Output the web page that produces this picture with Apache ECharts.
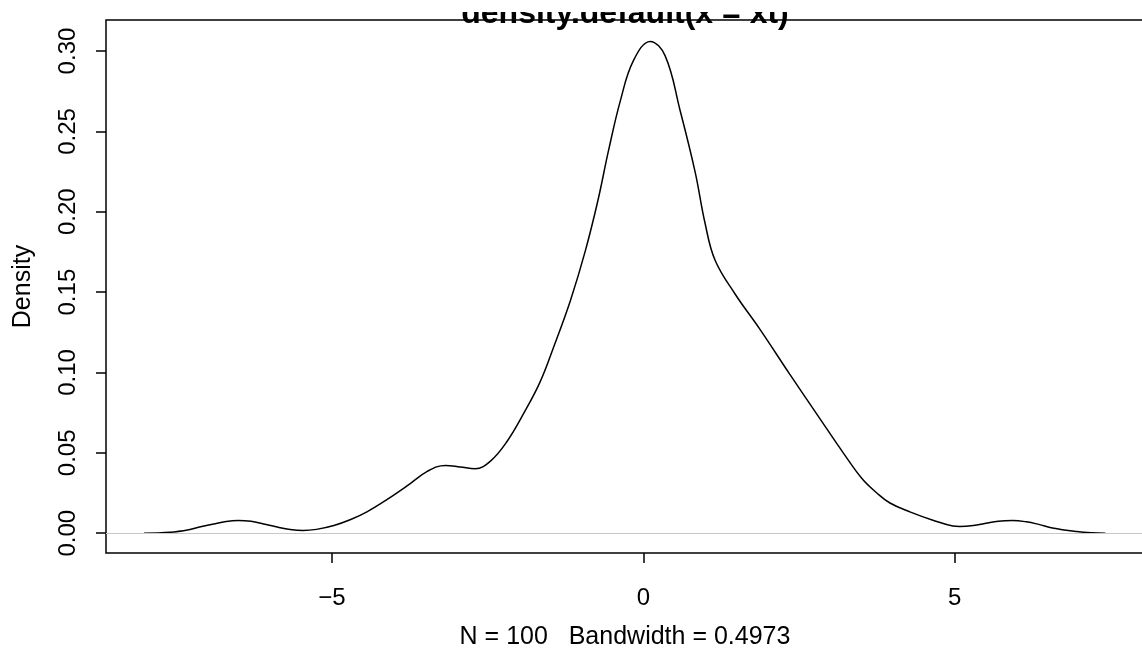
<!DOCTYPE html>
<html>
<head>
<meta charset="utf-8">
<script src="https://cdn.jsdelivr.net/npm/echarts@6/dist/echarts.min.js"></script>
<style>
html,body{margin:0;padding:0;background:#fff;}
#c{width:1142px;height:656px;}
</style>
</head>
<body>
<div id="c"></div>
<script>
// Data
const xValues = [-8.02, -7.6, -7.3, -7.11, -6.9, -6.7, -6.51, -6.3, -6.1, -5.9, -5.7, -5.47, -5.25, -4.97, -4.7, -4.44, -4.12, -3.79, -3.47, -3.18, -2.94, -2.70, -2.46, -2.19, -1.92, -1.66, -1.43, -1.17, -0.93, -0.73, -0.56, -0.37, -0.16, 0.11, 0.35, 0.59, 0.83, 0.99, 1.15, 1.47, 1.87, 2.35, 2.84, 3.21, 3.51, 3.75, 3.96, 4.28, 4.65, 4.97, 5.08, 5.3, 5.5, 5.7, 5.93, 6.15, 6.35, 6.57, 6.96, 7.2, 7.42];
const density = [0.0000, 0.0006, 0.0022, 0.0040, 0.0058, 0.0073, 0.0079, 0.0074, 0.0058, 0.0040, 0.0025, 0.0017, 0.0024, 0.0048, 0.0085, 0.0133, 0.0209, 0.0296, 0.0385, 0.0422, 0.0412, 0.0401, 0.0447, 0.0571, 0.0747, 0.0940, 0.1170, 0.1450, 0.1760, 0.2070, 0.2380, 0.2690, 0.2940, 0.3060, 0.2970, 0.2630, 0.2250, 0.1930, 0.1700, 0.1490, 0.1270, 0.0990, 0.0710, 0.0500, 0.0340, 0.0250, 0.0188, 0.0133, 0.0081, 0.0045, 0.0042, 0.0048, 0.0062, 0.0075, 0.0079, 0.0071, 0.0055, 0.0033, 0.0011, 0.0003, 0.0000];
const xTicks = [-5, 0, 5];
const yTicks = [0, 0.05, 0.10, 0.15, 0.20, 0.25, 0.30];
const titleText = 'density.default(x = xt)';
const xLabel = 'N = 100   Bandwidth = 0.4973';
const yLabel = 'Density';

const FONT = '"Liberation Sans", Arial, Helvetica, sans-serif';
const chart = echarts.init(document.getElementById('c'), null, {renderer: 'canvas'});
const points = xValues.map((x, i) => [x, density[i]]);

chart.setOption({
  animation: false,
  backgroundColor: '#ffffff',
  grid: {left: 106, top: 20, width: 1038, height: 533, outerBoundsMode: 'none', containLabel: false,
    show: true, borderColor: '#000', borderWidth: 1.5, backgroundColor: 'transparent'},
  xAxis: {
    type: 'value', min: -8.63, max: 8.04,
    name: xLabel, nameLocation: 'middle', nameGap: 72,
    nameTextStyle: {fontFamily: FONT, fontSize: 25, color: '#000'},
    axisLine: {show: false, onZero: false},
    splitLine: {show: false},
    axisTick: {show: true, customValues: xTicks, length: 10, inside: false, lineStyle: {color: '#000', width: 1.5}},
    axisLabel: {customValues: xTicks, margin: 33, fontFamily: FONT, fontSize: 24, color: '#000',
      formatter: v => (v < 0 ? '\u2212' + Math.abs(v) : String(v))}
  },
  yAxis: {
    type: 'value', min: -0.0123, max: 0.3193,
    name: yLabel, nameLocation: 'middle', nameGap: 70,
    nameTextStyle: {fontFamily: FONT, fontSize: 25, color: '#000'},
    axisLine: {show: false, onZero: false},
    splitLine: {show: false},
    axisTick: {show: true, customValues: yTicks, length: 10, lineStyle: {color: '#000', width: 1.5}},
    axisLabel: {customValues: yTicks, rotate: 90, margin: 26, fontFamily: FONT, fontSize: 24, color: '#000',
      formatter: v => v.toFixed(2)}
  },
  series: [{
    type: 'line', data: points, showSymbol: false, smooth: 0.4,
    lineStyle: {color: '#000', width: 1.5},
    markLine: {silent: true, symbol: 'none', label: {show: false},
      lineStyle: {color: '#c8c8c8', width: 1.2, type: 'solid'},
      data: [{yAxis: 0}]},
    z: 3
  }],
  graphic: [
    {type: 'text', x: 625, y: 30, z: 10,
      style: {text: titleText, fontFamily: FONT, fontSize: 32, fontWeight: 'bold', fill: '#000', textAlign: 'center', textVerticalAlign: 'bottom'}},
    {type: 'rect', shape: {x: 430, y: 0, width: 390, height: 12}, z: 11, style: {fill: '#fff'}}
  ]
});
</script>
</body>
</html>
